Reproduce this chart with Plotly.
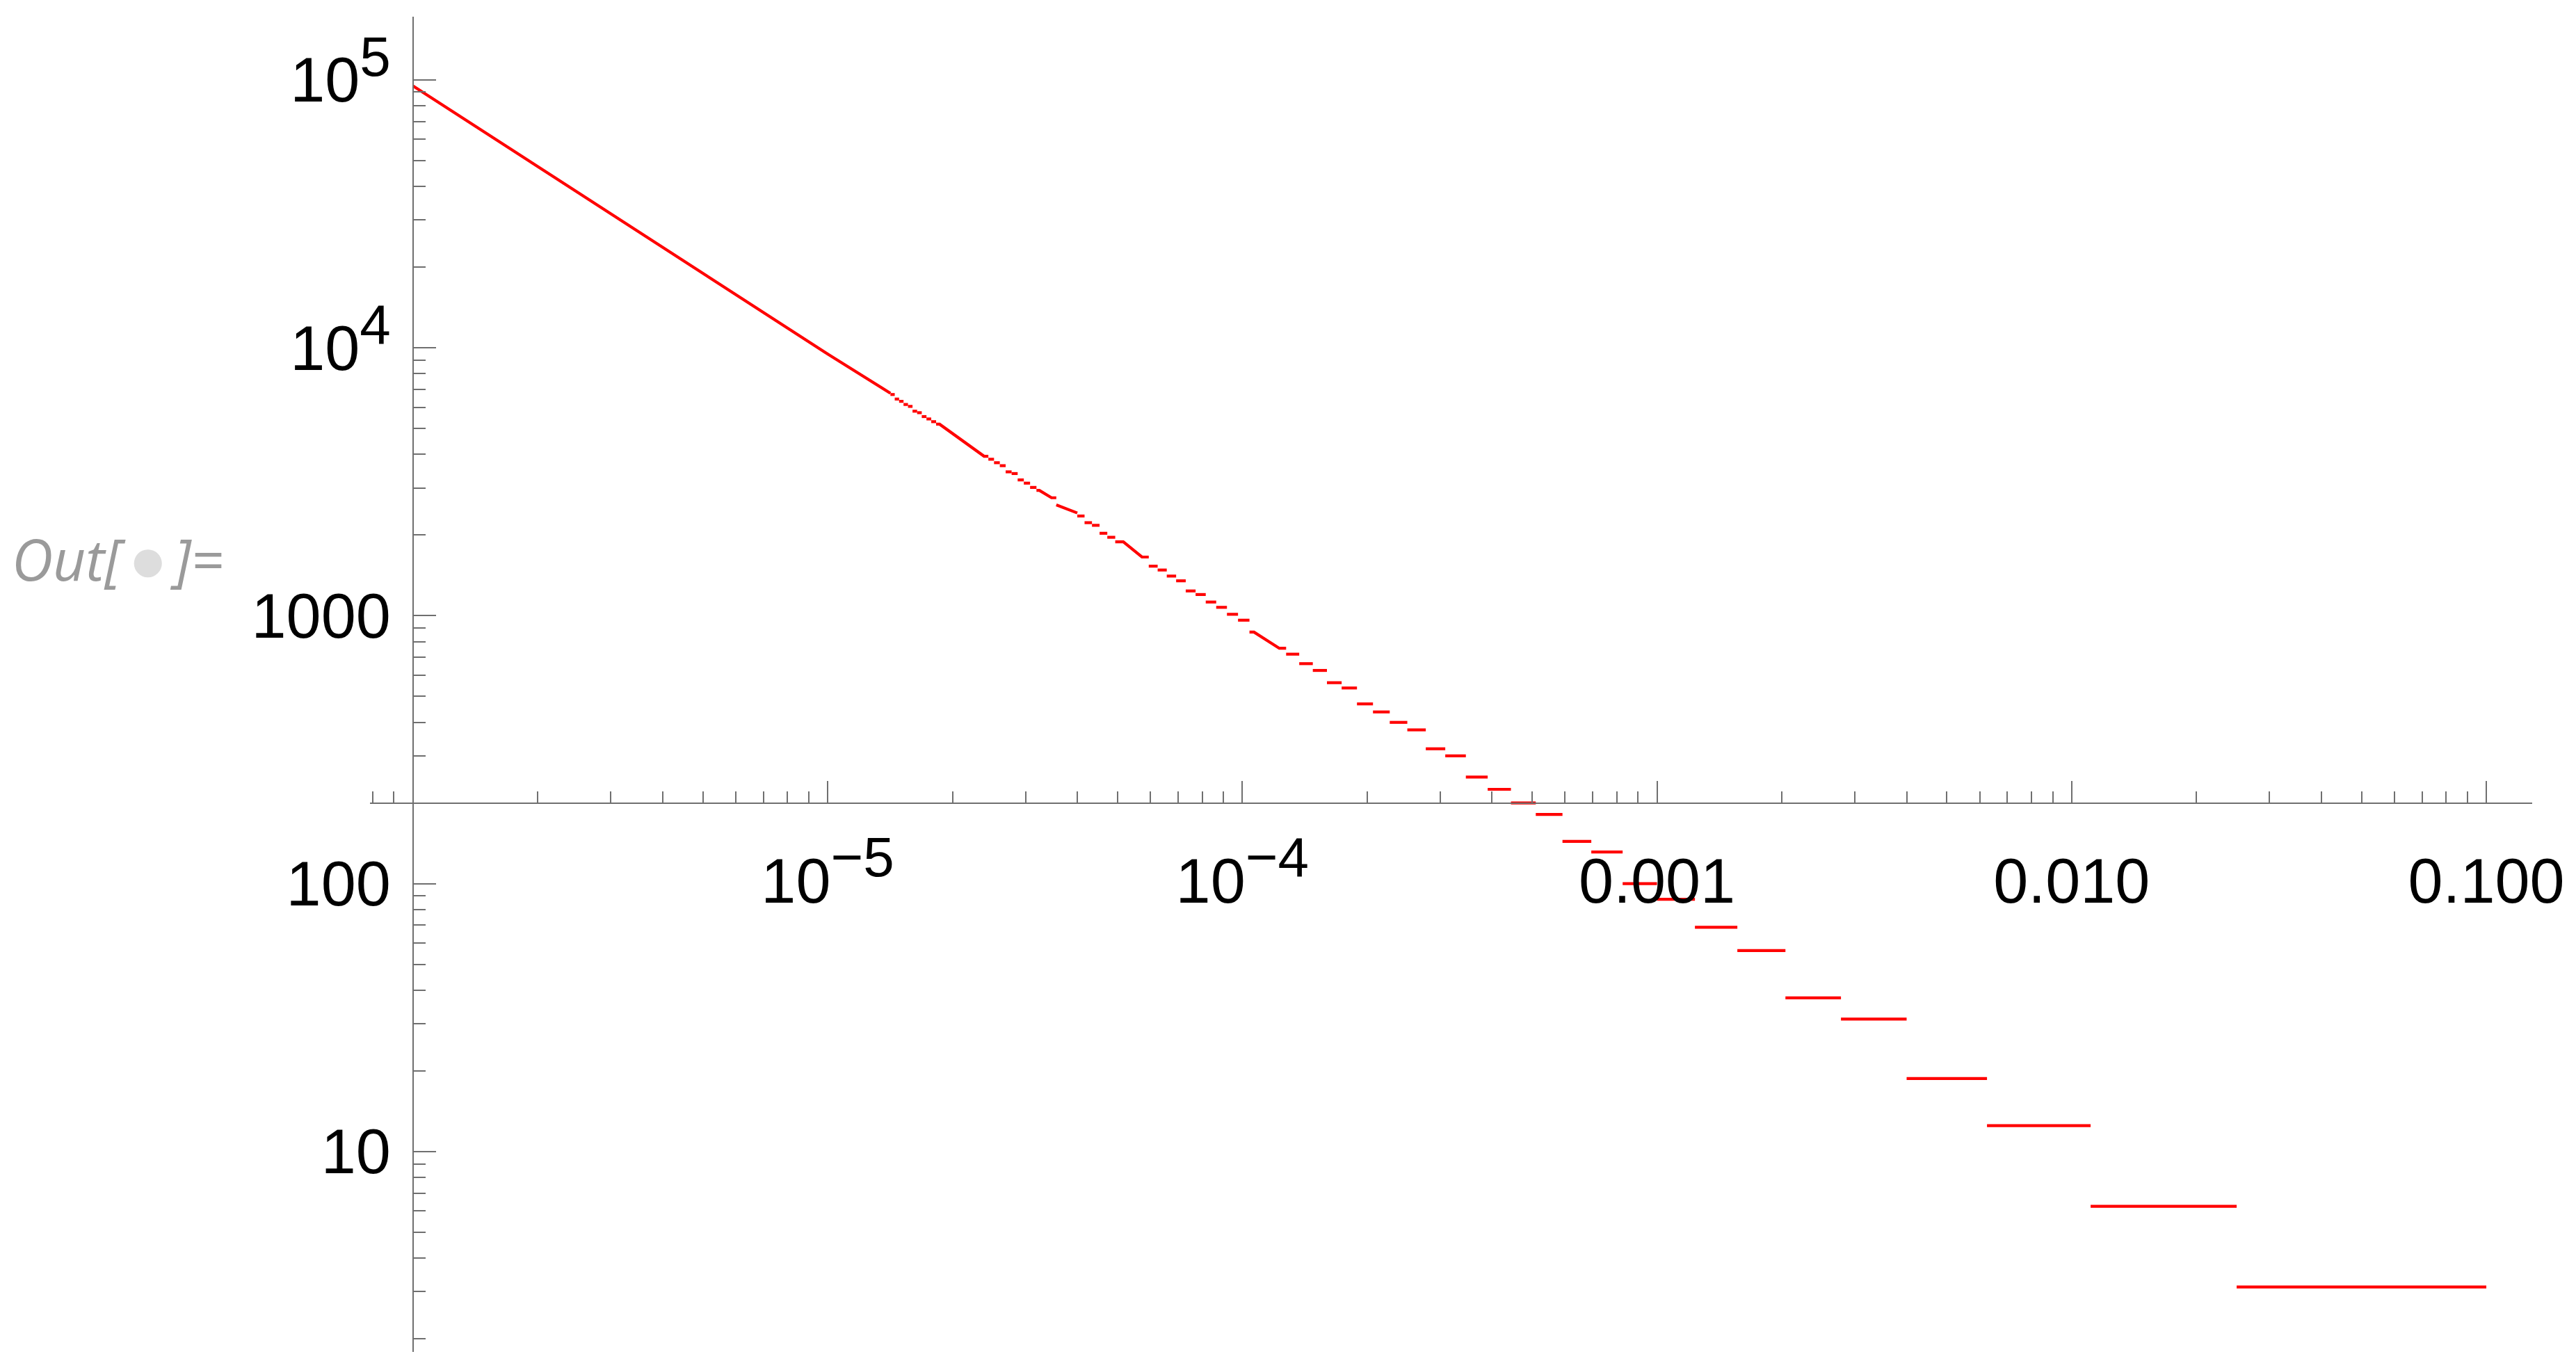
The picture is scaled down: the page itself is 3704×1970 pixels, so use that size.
import math
import plotly.graph_objects as go

# ---------------- data ----------------
# left part: the steps are so dense that the curve looks continuous
left_x = [1.0e-6, 1.5e-6, 2.0e-6, 3.0e-6, 5.0e-6, 7.0e-6, 1.0e-5, 1.4172e-5]
left_y = [95000, 63300, 47400, 31600, 19000, 13550, 9480, 6769]

# step boundaries (k = 1 is the rightmost step); step k spans [edges[k], edges[k-1]]
step_edges = [
    0.1, 0.025, 0.011111, 0.00625, 0.004, 0.0027778, 0.0020408, 0.0015625,
    0.0012346, 0.001, 0.00082645, 0.00069444, 0.00059172, 0.0005102, 0.00044444,
    0.00039063, 0.00034602, 0.00030864, 0.00027701, 0.00025, 0.00022676,
    0.00020661, 0.00018904, 0.00017361, 0.00016, 0.00014793, 0.00013717,
    0.00012755, 0.00011891, 0.00011111, 0.00010406, 9.7656e-5, 9.1827e-5,
    8.6505e-5, 8.1633e-5, 7.716e-5, 7.3046e-5, 6.9252e-5, 6.5746e-5, 6.25e-5,
    5.9488e-5, 5.6689e-5, 5.4083e-5, 5.1653e-5, 4.9383e-5, 4.7259e-5, 4.5269e-5,
    4.3403e-5, 4.1649e-5, 4.0e-5, 3.8447e-5, 3.6982e-5, 3.56e-5, 3.4294e-5,
    3.3058e-5, 3.1888e-5, 3.0779e-5, 2.9727e-5, 2.8727e-5, 2.7778e-5, 2.6874e-5,
    2.6015e-5, 2.5195e-5, 2.4414e-5, 2.3669e-5, 2.2957e-5, 2.2277e-5, 2.1626e-5,
    2.1004e-5, 2.0408e-5, 1.9837e-5, 1.929e-5, 1.8765e-5, 1.8262e-5, 1.7778e-5,
    1.7313e-5, 1.6866e-5, 1.6437e-5, 1.6023e-5, 1.5625e-5, 1.5242e-5, 1.4872e-5,
    1.4516e-5, 1.4172e-5,
]
step_values = [
    3.125, 6.25, 12.5, 18.75, 31.25, 37.5, 56.25, 68.75, 87.5, 100,
    131.25, 143.75, 181.25, 200, 225, 250, 300, 318.75, 375, 400,
    437.5, 468.75, 537.5, 562.5, 625, 662.5, 718.75, 756.25, 843.75, 868.75,
    962.5, 1012.5, 1075, 1125, 1200, 1237.5, 1350, 1406.25, 1481.25, 1531.25,
    1656.25, 1693.75, 1825, 1887.5, 1962.5, 2031.25, 2175, 2225, 2356.25, 2418.75,
    2518.75, 2593.75, 2756.25, 2812.5, 2937.5, 3012.5, 3125, 3212.5, 3393.75, 3443.75,
    3631.25, 3725, 3837.5, 3937.5, 4087.5, 4150, 4356.25, 4456.25, 4593.75, 4668.75,
    4887.5, 4962.5, 5187.5, 5300, 5425, 5537.5, 5725, 5800, 6043.75, 6143.75,
    6312.5, 6437.5, 6693.75,
]

# places where the sampled curve was joined by a sloped segment instead of a jump
join_from_k = [73, 55, 52, 44, 30]
join_to_k = [64, 53, 50, 41, 28]
join_start_x = [1.862e-5, 3.241e-5, 3.56e-5, 5.1653e-5, 1.067e-4]
join_end_x = [2.384e-5, 3.467e-5, 3.978e-5, 5.729e-5, 1.228e-4]

# axis ticks
SUP = "<sup><span style='font-size:80px'>{}</span></sup>"
x_major = [1e-5, 1e-4, 1e-3, 1e-2, 1e-1]
x_major_text = ["10" + SUP.format("\u22125"), "10" + SUP.format("\u22124"),
                "0.001", "0.010", "0.100"]
y_major = [10, 100, 1000, 1e4, 1e5]
y_major_text = ["10", "100", "1000", "10" + SUP.format("4"), "10" + SUP.format("5")]
x_minor = [8e-7, 9e-7] + [m * 10.0 ** e for e in range(-6, -1) for m in range(2, 10)]
y_minor = [m * 10.0 ** e for e in range(0, 5) for m in range(2, 10)]

# ---------------- build the drawn path ----------------
xs, ys = list(left_x) + [None], list(left_y) + [None]
covered = set()
for ka, kb in zip(join_from_k, join_to_k):
    covered.update(range(kb, ka + 1))
for k in range(1, len(step_values) + 1):
    if k in covered:
        continue
    xs += [step_edges[k], step_edges[k - 1], None]
    ys += [step_values[k - 1], step_values[k - 1], None]
for ka, kb, xa, xb in zip(join_from_k, join_to_k, join_start_x, join_end_x):
    xs += [step_edges[ka], xa, xb, step_edges[kb - 1], None]
    ys += [step_values[ka - 1], step_values[ka - 1], step_values[kb - 1], step_values[kb - 1], None]

fig = go.Figure()
fig.add_trace(go.Scatter(x=xs, y=ys, mode="lines", connectgaps=False,
                         line=dict(color="#ff0000", width=4.2), hoverinfo="skip",
                         showlegend=False))

AX = "#6f6f6f"
FONT = "Arial, 'Liberation Sans', sans-serif"
x_range = [-6.1036, -0.8894]
y_range = [0.2525, 5.2357]
x_axis_at = 200.0   # y value where the horizontal axis crosses
y_axis_at = 1e-6    # x value where the vertical axis crosses

xpos = (math.log10(x_axis_at) - y_range[0]) / (y_range[1] - y_range[0])
ypos = (math.log10(y_axis_at) - x_range[0]) / (x_range[1] - x_range[0])

# the page body has an 8px margin, so the figure is 8px smaller than the window
W, H = 3696, 1962
ML, MR, MT, MB = 524, 63, 16, 26
PW, PH = W - ML - MR, H - MT - MB

fig.update_layout(
    width=W, height=H,
    margin=dict(l=ML, r=MR, t=MT, b=MB, autoexpand=False),
    paper_bgcolor="white", plot_bgcolor="white",
    font=dict(family=FONT, size=90, color="black"),
    xaxis=dict(type="log", range=x_range, anchor="free", position=xpos,
               showline=True, linecolor=AX, linewidth=2, showgrid=False, zeroline=False,
               ticks="inside", ticklen=31, tickwidth=2, tickcolor=AX,
               tickmode="array", tickvals=x_major, ticktext=x_major_text,
               tickfont=dict(family=FONT, size=90, color="black"),
               ticklabelstandoff=34, automargin=False,
               minor=dict(tickmode="array", tickvals=x_minor, ticks="inside",
                          ticklen=16, tickwidth=2, tickcolor=AX, showgrid=False)),
    yaxis=dict(type="log", range=y_range, anchor="free", position=ypos,
               showline=True, linecolor=AX, linewidth=2, showgrid=False, zeroline=False,
               ticks="inside", ticklen=32, tickwidth=2, tickcolor=AX,
               tickmode="array", tickvals=y_major, ticktext=y_major_text,
               tickfont=dict(family=FONT, size=90, color="black"),
               ticklabelstandoff=13, automargin=False,
               minor=dict(tickmode="array", tickvals=y_minor, ticks="inside",
                          ticklen=17, tickwidth=2, tickcolor=AX, showgrid=False)),
    annotations=[dict(
        text="Out[\u2009<span style='color:#dddddd'>\u25cf</span>\u2009]=",
        xref="paper", yref="paper", x=(15 - 8 - ML) / PW, y=(H - MB - (803 - 8)) / PH,
        xanchor="left", yanchor="middle", showarrow=False,
        font=dict(family="'Open Sans', Lato, sans-serif", size=82, color="#9a9a9a",
                  style="italic"))],
)

fig.write_html("out.html")
